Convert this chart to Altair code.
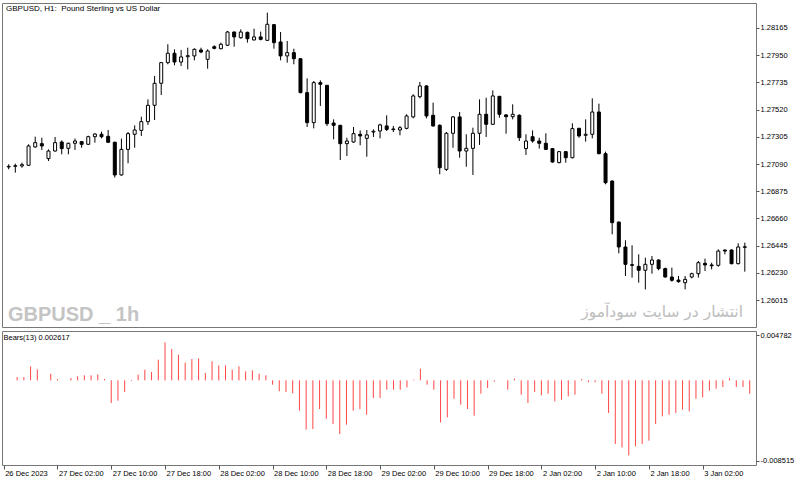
import altair as alt
import pandas as pd

# ---- data (H1 candles, 26 Dec 2023 18:00 -> 3 Jan 2024 09:00) ----
opens = [1.27067, 1.27072, 1.27075, 1.27080, 1.27225, 1.27251, 1.27133, 1.27193, 1.27264, 1.27214,
         1.27254, 1.27267, 1.27246, 1.27306, 1.27325, 1.27309, 1.27262, 1.27004, 1.27206, 1.27325,
         1.27356, 1.27425, 1.27554, 1.27728, 1.27891, 1.27965, 1.27896, 1.27938, 1.27944, 1.27991,
         1.27917, 1.28017, 1.28001, 1.28028, 1.28133, 1.28088, 1.28130, 1.28070, 1.28094, 1.28067,
         1.28191, 1.28054, 1.27944, 1.27970, 1.27922, 1.27654, 1.27417, 1.27733, 1.27712, 1.27414,
         1.27396, 1.27251, 1.27264, 1.27325, 1.27293, 1.27343, 1.27351, 1.27391, 1.27367, 1.27359,
         1.27372, 1.27462, 1.27622, 1.27707, 1.27475, 1.27396, 1.27048, 1.27333, 1.27462, 1.27193,
         1.27214, 1.27333, 1.27483, 1.27404, 1.27625, 1.27478, 1.27464, 1.27475, 1.27212, 1.27306,
         1.27272, 1.27254, 1.27212, 1.27101, 1.27188, 1.27140, 1.27372, 1.27317, 1.27325, 1.27501,
         1.27172, 1.26956, 1.26632, 1.26435, 1.26295, 1.26282, 1.26251, 1.26298, 1.26332, 1.26264,
         1.26198, 1.26174, 1.26153, 1.26198, 1.26224, 1.26306, 1.26293, 1.26290, 1.26411, 1.26411,
         1.26303, 1.26432]
highs = [1.27088, 1.27093, 1.27101, 1.27246, 1.27306, 1.27298, 1.27206, 1.27304, 1.27277, 1.27259,
         1.27291, 1.27272, 1.27314, 1.27333, 1.27346, 1.27359, 1.27267, 1.27291, 1.27343, 1.27396,
         1.27464, 1.27601, 1.27786, 1.27896, 1.28036, 1.27996, 1.27991, 1.28009, 1.28004, 1.28009,
         1.27996, 1.28028, 1.28049, 1.28141, 1.28136, 1.28154, 1.28136, 1.28159, 1.28136, 1.28286,
         1.28194, 1.28133, 1.28062, 1.28001, 1.27925, 1.27767, 1.27746, 1.27751, 1.27714, 1.27443,
         1.27399, 1.27298, 1.27383, 1.27356, 1.27359, 1.27364, 1.27409, 1.27475, 1.27391, 1.27391,
         1.27483, 1.27641, 1.27738, 1.27712, 1.27575, 1.27404, 1.27343, 1.27470, 1.27501, 1.27325,
         1.27377, 1.27601, 1.27614, 1.27672, 1.27628, 1.27483, 1.27562, 1.27483, 1.27325, 1.27356,
         1.27298, 1.27333, 1.27214, 1.27193, 1.27193, 1.27412, 1.27377, 1.27443, 1.27609, 1.27567,
         1.27188, 1.26961, 1.26635, 1.26488, 1.26448, 1.26377, 1.26351, 1.26364, 1.26337, 1.26272,
         1.26272, 1.26206, 1.26206, 1.26232, 1.26324, 1.26343, 1.26311, 1.26416, 1.26416, 1.26416,
         1.26464, 1.26469]
lows = [1.27048, 1.27022, 1.27061, 1.27075, 1.27219, 1.27201, 1.27114, 1.27188, 1.27167, 1.27167,
        1.27201, 1.27219, 1.27241, 1.27259, 1.27293, 1.27256, 1.26983, 1.26998, 1.27096, 1.27219,
        1.27312, 1.27399, 1.27438, 1.27635, 1.27878, 1.27870, 1.27865, 1.27838, 1.27909, 1.27965,
        1.27843, 1.27996, 1.27996, 1.28023, 1.28017, 1.28080, 1.28049, 1.28067, 1.28067, 1.28062,
        1.28001, 1.27909, 1.27891, 1.27878, 1.27649, 1.27383, 1.27372, 1.27549, 1.27391, 1.27285,
        1.27122, 1.27154, 1.27259, 1.27238, 1.27148, 1.27304, 1.27293, 1.27351, 1.27343, 1.27317,
        1.27364, 1.27451, 1.27609, 1.27451, 1.27385, 1.27009, 1.27035, 1.27219, 1.27140, 1.27069,
        1.27004, 1.27241, 1.27304, 1.27399, 1.27456, 1.27330, 1.27443, 1.27272, 1.27162, 1.27259,
        1.27212, 1.27201, 1.27101, 1.27096, 1.27101, 1.27135, 1.27298, 1.27267, 1.27293, 1.27167,
        1.26930, 1.26535, 1.26385, 1.26206, 1.26193, 1.26153, 1.26100, 1.26224, 1.26251, 1.26193,
        1.26161, 1.26153, 1.26100, 1.26187, 1.26193, 1.26245, 1.26258, 1.26279, 1.26377, 1.26298,
        1.26298, 1.26240]
closes = [1.27072, 1.27077, 1.27085, 1.27233, 1.27259, 1.27233, 1.27193, 1.27259, 1.27212, 1.27254,
          1.27272, 1.27246, 1.27306, 1.27327, 1.27306, 1.27262, 1.27004, 1.27206, 1.27330, 1.27359,
          1.27425, 1.27554, 1.27728, 1.27891, 1.27965, 1.27896, 1.27936, 1.27946, 1.27996, 1.27975,
          1.27983, 1.28004, 1.28036, 1.28133, 1.28094, 1.28133, 1.28080, 1.28094, 1.28075, 1.28194,
          1.28049, 1.27944, 1.27970, 1.27922, 1.27654, 1.27417, 1.27733, 1.27720, 1.27409, 1.27396,
          1.27251, 1.27272, 1.27330, 1.27312, 1.27320, 1.27349, 1.27399, 1.27364, 1.27362, 1.27377,
          1.27470, 1.27628, 1.27707, 1.27470, 1.27391, 1.27061, 1.27333, 1.27462, 1.27193, 1.27214,
          1.27333, 1.27483, 1.27404, 1.27628, 1.27483, 1.27464, 1.27483, 1.27298, 1.27272, 1.27272,
          1.27254, 1.27206, 1.27106, 1.27188, 1.27140, 1.27370, 1.27312, 1.27325, 1.27501, 1.27172,
          1.26943, 1.26627, 1.26435, 1.26298, 1.26290, 1.26251, 1.26298, 1.26332, 1.26264, 1.26198,
          1.26172, 1.26161, 1.26179, 1.26224, 1.26311, 1.26293, 1.26287, 1.26403, 1.26403, 1.26303,
          1.26435, 1.26437]
bears = [0.0, 0.0, 0.00035, 0.00035, 0.00148, 0.00116, 0.0, 0.0007, 0.00014, 0.0,
         0.00025, 0.00042, 0.00053, 0.00053, 0.00063, 0.00014, -0.00239, -0.00215, -0.00123, -0.00008,
         0.0006, 0.00113, 0.00088, 0.00218, 0.00401, 0.00331, 0.00271, 0.00187, 0.00225, 0.00232,
         0.00077, 0.00201, 0.00158, 0.00158, 0.00113, 0.00148, 0.00095, 0.00106, 0.0007, 0.00053,
         -0.00046, -0.00116, -0.00123, -0.00137, -0.0032, -0.00521, -0.00514, -0.00303, -0.00405, -0.00461,
         -0.00567, -0.00468, -0.0032, -0.00303, -0.00363, -0.00187, -0.00187, -0.00099, -0.00099, -0.00099,
         -0.00074, 0.00007, 0.00123, -0.00046, -0.00099, -0.00444, -0.00391, -0.00194, -0.00257, -0.00303,
         -0.00373, -0.00141, -0.00081, -0.00014, 0.0, -0.00099, 0.00018, -0.00151, -0.00239, -0.00123,
         -0.00158, -0.00141, -0.00222, -0.00204, -0.00169, -0.00151, 0.00014, -0.0002, -0.0002, -0.00141,
         -0.00345, -0.00672, -0.00708, -0.00792, -0.00697, -0.00672, -0.00637, -0.00461, -0.0038, -0.00363,
         -0.00345, -0.0031, -0.00327, -0.00194, -0.0018, -0.00109, -0.00088, -0.0007, 0.00025, -0.0007,
         -0.0007, -0.00141]
time_labels = ["26 Dec 2023", "27 Dec 02:00", "27 Dec 10:00", "27 Dec 18:00", "28 Dec 02:00",
               "28 Dec 10:00", "28 Dec 18:00", "29 Dec 02:00", "29 Dec 10:00", "29 Dec 18:00",
               "2 Jan 02:00", "2 Jan 10:00", "2 Jan 18:00", "3 Jan 02:00"]
price_ticks = [1.28165, 1.27950, 1.27735, 1.27520, 1.27305, 1.27090, 1.26875,
               1.26660, 1.26445, 1.26230, 1.26015]
bears_ticks = [0.004782, -0.008515]

n = len(opens)
df = pd.DataFrame({"bar": list(range(n)), "open": opens, "high": highs,
                   "low": lows, "close": closes})
df["dir"] = ["up" if c >= o else "down" for o, c in zip(opens, closes)]
bdf = pd.DataFrame({"bar": list(range(n)), "bears": bears})

FONT = "Liberation Sans"
FS = 7.5
x_scale = alt.Scale(domain=[-0.253, 111.933], nice=False, zero=False)
p_scale = alt.Scale(domain=[1.25803, 1.28362], nice=False, zero=False)
b_scale = alt.Scale(domain=[-0.00894, 0.00521], nice=False, zero=False)

label_arr = "[" + ",".join("'%s'" % t for t in time_labels) + "]"

y_axis_main = alt.Axis(orient="right", values=price_ticks, format=".5f", grid=False,
                       domain=False, tickSize=3, tickColor="#555555", labelPadding=1,
                       labelFont=FONT, labelFontSize=FS, labelColor="black", title=None)

base = alt.Chart(df)
wicks = base.mark_rule(color="black", strokeWidth=1).encode(
    x=alt.X("bar:Q", scale=x_scale, axis=None),
    y=alt.Y("low:Q", scale=p_scale, axis=y_axis_main),
    y2="high:Q",
)
bodies = base.mark_bar(size=3, stroke="black", strokeWidth=1).encode(
    x=alt.X("bar:Q", scale=x_scale, axis=None),
    y=alt.Y("open:Q", scale=p_scale, axis=y_axis_main),
    y2="close:Q",
    fill=alt.Fill("dir:N", scale=alt.Scale(domain=["up", "down"], range=["white", "black"]),
                  legend=None),
)

one = pd.DataFrame({"k": [0]})
title_txt = alt.Chart(one).mark_text(
    text="GBPUSD, H1:\u00a0 Pound Sterling vs US Dollar", align="left", baseline="middle",
    font=FONT, fontSize=8, color="black").encode(x=alt.value(4), y=alt.value(5.5))
wm_txt = alt.Chart(one).mark_text(
    text="GBPUSD _ 1h", align="left", baseline="alphabetic",
    font=FONT, fontWeight="bold", fontSize=20, color="#c4c4c4").encode(
    x=alt.value(6), y=alt.value(318))
fa_txt = alt.Chart(one).mark_text(
    text="انتشار در سایت سودآموز", align="right", baseline="middle",
    font="DejaVu Sans", fontSize=15.5, color="#bdbdbd").encode(x=alt.value(741), y=alt.value(309))

main = alt.layer(wicks, bodies, title_txt, wm_txt, fa_txt).properties(width=754, height=324)

ind_bars = alt.Chart(bdf).mark_rule(color="#ff4646", strokeWidth=1).encode(
    x=alt.X("bar:Q", scale=x_scale,
            axis=alt.Axis(values=list(range(0, 105, 8)),
                          labelExpr=label_arr + "[round(datum.value/8)]",
                          grid=False, domain=False, tickSize=4, tickColor="#555555",
                          labelAlign="left", labelBaseline="top", labelPadding=0,
                          labelOffset=1, labelOverlap=False, labelFlush=False, labelBound=False,
                          labelFont=FONT, labelFontSize=FS, labelColor="black", title=None)),
    y=alt.Y("bears:Q", scale=b_scale,
            axis=alt.Axis(orient="right", values=bears_ticks,
                          labelExpr="replace(format(datum.value, '.6f'), '\u2212', '-')",
                          grid=False, domain=False, tickSize=3, tickColor="#555555",
                          labelPadding=1, labelFont=FONT, labelFontSize=FS,
                          labelColor="black", title=None)),
    y2=alt.datum(0),
)
bears_txt = alt.Chart(one).mark_text(
    text="Bears(13) 0.002617", align="left", baseline="middle",
    font=FONT, fontSize=FS, color="black").encode(x=alt.value(1.5), y=alt.value(7))

ind = alt.layer(ind_bars, bears_txt).properties(width=754, height=134)

chart = alt.vconcat(main, ind, spacing=2).resolve_scale(
    x="independent", y="independent", fill="independent"
).properties(
    padding={"left": 1, "top": 2, "right": 0, "bottom": 0},
    background="white",
).configure_view(stroke="#777777", strokeWidth=1)

chart.save("out.html", embed_options={"renderer": "svg", "actions": False})
